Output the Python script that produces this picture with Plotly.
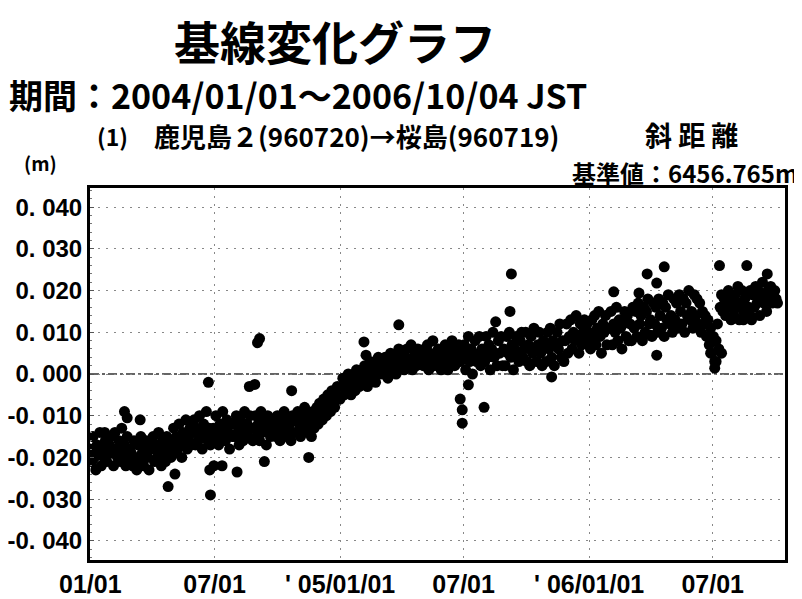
import plotly.graph_objects as go
import pandas as pd

# Observations (mm), sampled every 2 days from 1 Jan of each year
vals_2004 = [
    -18, -21, -15, -20, -23, -17, -19, -14, -22, -18, -20, -16, -21, -19, -17,
    -15, -19, -22, -14, -18, -20, -16, -21, -13, -19, -17, -22, -15, -20, -18,
    -19, -22, -16, -20, -23, -17, -21, -15, -19, -22, -18, -16, -20, -23, -17,
    -18, -15, -21, -17, -20, -14, -19, -22, -16, -18, -21, -15, -19, -17, -20,
    -16, -13, -19, -15, -18, -12, -17, -20, -14, -16, -11, -18, -15, -13, -17,
    -14, -11, -17, -13, -16, -10, -15, -18, -12, -14, -9, -16, -13, -17, -15,
    -13, -16, -10, -14, -17, -12, -15, -9, -13, -16, -11, -14, -18, -12, -15,
    -12, -15, -10, -14, -17, -11, -13, -16, -9, -14, -12, -15, -10, -13, -16,
    -13, -10, -15, -12, -16, -9, -14, -11, -13, -17, -10, -12, -15, -11, -14,
    -12, -15, -10, -13, -16, -11, -14, -9, -13, -15, -11, -12, -16, -10, -14,
    -11, -14, -9, -12, -15, -10, -13, -8, -12, -14, -10, -11, -15, -9, -13,
    -10, -8, -12, -7, -9, -11, -6, -8, -10, -5, -7, -9, -4, -6, -8,
    -5, -3, -6,
]
vals_2005 = [
    -6, -3, -1, -5, -2, -4, 0, -3, -5, -1, -2, -4, 1, -2, -3,
    -1, 1, -2, 2, 0, -3, 1, 3, -1, 0, 2, -2, 1, 4, 0,
    1, 3, 0, 4, 2, -1, 3, 5, 1, 2, 4, 0, 3, 6, 2,
    3, 5, 1, 4, 6, 2, 3, 7, 1, 4, 5, 2, 6, 3, 4,
    4, 2, 6, 3, 7, 1, 5, 4, 8, 2, 5, 3, 6, 4, 1,
    5, 2, 7, 4, 1, 6, 3, 8, 5, 2, 6, 4, 7, 3, 5,
    4, 7, 1, 5, 9, 3, 6, 0, 5, 8, 3, 4, 9, 2, 6,
    5, 3, 9, 4, 7, 1, 6, 10, 4, 5, 2, 8, 5, 9, 2,
    6, 2, 9, 5, 10, 4, 7, 1, 6, 9, 5, 3, 8, 10, 4,
    6, 10, 3, 7, 2, 9, 5, 11, 6, 3, 7, 10, 5, 2, 8,
    7, 3, 10, 6, 11, 4, 8, 2, 7, 10, 6, 12, 4, 8, 3,
    8, 12, 5, 9, 13, 6, 10, 8, 14, 9, 5, 12, 7, 10, 13,
    9, 12, 7,
]
vals_2006 = [
    10, 6, 13, 9, 14, 7, 11, 15, 9, 5, 12, 10, 14, 7, 11,
    11, 15, 7, 12, 10, 16, 8, 13, 11, 6, 12, 15, 9, 14, 8,
    12, 8, 16, 11, 15, 9, 17, 12, 14, 8, 16, 10, 15, 18, 12,
    13, 9, 17, 12, 16, 10, 18, 14, 11, 17, 9, 16, 13, 19, 12,
    14, 10, 18, 13, 17, 11, 19, 15, 12, 18, 10, 17, 14, 20, 13,
    15, 11, 19, 14, 18, 12, 17, 10, 15, 12, 14, 9, 13, 7, 11,
    5, 9, 3, 8, 12, 6, 16, 19, 15, 18, 14, 17, 20, 16, 13,
    18, 14, 19, 16, 21, 13, 17, 20, 15, 18, 14, 19, 16, 20, 13,
    19, 16, 21, 17, 20, 14, 18, 22, 17, 19, 15, 20, 18, 21, 17,
    19, 20, 18, 17,
]

# Isolated observations (date, mm)
out_dates = [
    "2004-01-22", "2004-02-20", "2004-02-24", "2004-03-14", "2004-04-24",
    "2004-05-04", "2004-06-22", "2004-06-24", "2004-06-25", "2004-06-30",
    "2004-07-12", "2004-08-03", "2004-08-21", "2004-08-29", "2004-09-02",
    "2004-09-05", "2004-09-12", "2004-10-22", "2004-11-16", "2005-02-05",
    "2005-02-08", "2005-03-28", "2005-06-26", "2005-06-29", "2005-06-29",
    "2005-07-08", "2005-07-31", "2005-08-17", "2005-09-07", "2005-09-09",
    "2005-11-07", "2006-02-06", "2006-03-15", "2006-03-27", "2006-04-01",
    "2006-04-10", "2006-04-10", "2006-04-21", "2006-06-28", "2006-07-02",
    "2006-07-04", "2006-07-06", "2006-07-11", "2006-07-14", "2006-08-15",
    "2006-08-20", "2006-08-20", "2006-08-25", "2006-09-19",
]
out_vals = [
    -14, -9, -10.5, -11, -27,
    -24, -2, -23, -29, -22,
    -22, -23.5, -3, -2.5, 7.5,
    8.5, -21, -4, -20, 7.7,
    4.5, 11.8, -6, -11.8, -8.6,
    -2.6, -8, 12.5, 15, 24,
    -0.7, 19.7, 19.4, 24, 9.3,
    4.5, 21.8, 25.7, 5, 8,
    1.4, 3, 26, 5, 13,
    26, 13.7, 14, 24,
]

y_tick_vals = [0.04, 0.03, 0.02, 0.01, 0.0, -0.01, -0.02, -0.03, -0.04]
y_tick_text = ["0. 040", "0. 030", "0. 020", "0. 010", "0. 000",
               "-0. 010", "-0. 020", "-0. 030", "-0. 040"]
x_tick_dates = ["2004-01-01", "2004-07-01", "2005-01-01",
                "2005-07-01", "2006-01-01", "2006-07-01"]
x_tick_text = ["01/01", "07/01", "' 05/01/01", "07/01", "' 06/01/01", "07/01"]

# --- build series ---
dates, vals = [], []
for year, arr in ((2004, vals_2004), (2005, vals_2005), (2006, vals_2006)):
    d = pd.date_range(f"{year}-01-01", periods=len(arr), freq="2D")
    dates += list(d)
    vals += arr
dates += list(pd.to_datetime(out_dates))
vals += out_vals
vals_m = [v / 1000.0 for v in vals]

# page has an 8px body margin; figure is sized to fit the 802x599 window
OFF = 8
W, H = 802 - OFF, 599 - OFF
L, R, T, B = 82, 17, 180, 39
pw, ph = W - L - R, H - T - B


def px(x):  # x in window pixels -> paper fraction
    return (x - OFF - L) / pw


def py(y):  # y in window pixels -> paper fraction
    return (H - B - (y - OFF)) / ph


CJK = "Noto Sans CJK JP, sans-serif"
NUM = "Liberation Sans, Arial, sans-serif"

fig = go.Figure()
fig.add_trace(go.Scatter(
    x=dates, y=vals_m, mode="markers",
    marker=dict(color="black", size=11, line=dict(width=0)),
    hoverinfo="x+y", showlegend=False,
))

fig.add_shape(type="line", xref="paper", yref="y", x0=0, x1=1, y0=0, y1=0,
              line=dict(color="#333", width=1.5, dash="dashdot"), layer="below")

fig.update_layout(
    width=W, height=H,
    margin=dict(l=L, r=R, t=T, b=B),
    paper_bgcolor="white", plot_bgcolor="white",
    font=dict(family=NUM, color="black"),
    xaxis=dict(
        type="date", range=["2003-12-31 12:00", "2006-10-15"],
        tickvals=x_tick_dates, ticktext=[f"<b>{t}</b>" for t in x_tick_text],
        tickfont=dict(family=NUM, size=25, color="black"),
        showgrid=True, gridcolor="#888", griddash="2px,6px", gridwidth=1,
        showline=True, linecolor="black", linewidth=3, mirror=True,
        ticks="", zeroline=False, automargin=False,
    ),
    yaxis=dict(
        range=[-0.0446, 0.0446],
        tickvals=y_tick_vals, ticktext=[f"<b>{t}</b>" for t in y_tick_text],
        tickfont=dict(family=NUM, size=24, color="black"),
        showgrid=True, gridcolor="#888", griddash="2px,6px", gridwidth=1,
        showline=True, linecolor="black", linewidth=3, mirror=True,
        ticks="inside", ticklen=4, tickcolor="#555",
        minor=dict(dtick=0.002, ticks="inside", ticklen=2, tickcolor="#777", showgrid=False),
        zeroline=False, automargin=False,
    ),
)

ann = [
    dict(text="<b>基線変化グラフ</b>", x=px(335), y=py(40), size=46, xanchor="center"),
    dict(text="<b>期間：2004/01/01～2006/10/04 JST</b>", x=px(7), y=py(94), size=34, xanchor="left"),
    dict(text="<b>(1)</b>", x=px(95), y=py(136), size=23, xanchor="left"),
    dict(text="<b>鹿児島２(960720)→桜島(960719)</b>", x=px(152), y=py(136), size=26, xanchor="left"),
    dict(text="<b>斜 距 離</b>", x=px(691), y=py(135), size=27, xanchor="center"),
    dict(text="<b>(m)</b>", x=px(40), y=py(162), size=19, xanchor="center"),
    dict(text="<b>基準値：6456.765m</b>", x=px(800), y=py(172), size=24, xanchor="right"),
]
for a in ann:
    fig.add_annotation(
        text=a["text"], x=a["x"], y=a["y"], xref="paper", yref="paper",
        xanchor=a["xanchor"], yanchor="middle", showarrow=False,
        font=dict(family=CJK, size=a["size"], color="black"),
    )

fig.write_html("out.html")
